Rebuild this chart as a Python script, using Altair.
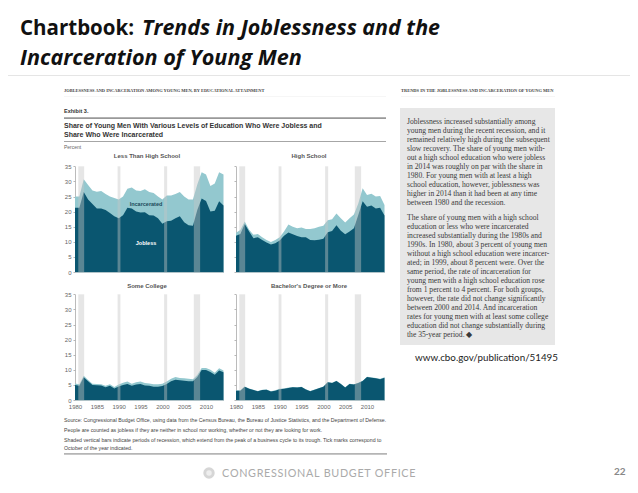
import altair as alt
import pandas as pd

years = list(range(1980, 2015))
panel_names = ["Less Than High School", "High School", "Some College", "Bachelor's Degree or More"]

lths_jobless = [21.3, 21.3, 26.5, 24, 22.5, 21, 21, 20.5, 19.5, 18.5, 17.8, 18.8, 21.3, 21, 20, 19.7, 19.8, 18.8, 18.7, 17.8, 16, 16.8, 17, 17.8, 18.5, 16.5, 15.5, 15.3, 20.5, 24.3, 23.5, 20, 20.3, 23.4, 22]
lths_total = [25, 25, 30.7, 28.8, 27, 26.6, 26.8, 25.8, 25, 24.5, 24, 25, 27.6, 28, 27, 26.8, 27.4, 26.5, 26.2, 25, 24, 25.3, 25.3, 25.8, 26.5, 25, 24, 24, 29, 33, 32.3, 28.5, 29.3, 33, 32.3]

hs_jobless = [12, 12.6, 15.9, 13.4, 11.2, 11.5, 10.6, 9.8, 9.1, 9.5, 10.4, 12, 13.1, 12.5, 11.9, 11.5, 11.5, 10.6, 10.5, 10.7, 11, 13.2, 13.6, 15.5, 13.7, 12.5, 13.4, 14.5, 18.9, 23.4, 21.6, 22, 21, 21.3, 18.7]
hs_total = [13, 13.9, 16.7, 14, 12.3, 12.6, 11.5, 10.6, 9.9, 10.6, 11.5, 13.4, 15.7, 15, 14.5, 14.7, 14.2, 14.2, 14.5, 15, 15.3, 17.1, 17.5, 19.4, 17.8, 16.4, 17.8, 19, 22.7, 27.7, 25.5, 25.9, 25, 25.2, 22.2]

sc_jobless = [5, 4.7, 7.5, 6.2, 5, 4.9, 4.8, 4.2, 4.7, 3.8, 4.5, 5, 5.3, 4.7, 5.1, 5.3, 4.8, 4.7, 4.4, 4.4, 4.6, 5.3, 6.2, 6.7, 6.5, 6.4, 6.2, 6.2, 7.6, 9.9, 9.9, 9.3, 8.4, 9.8, 9.2]
sc_total = [5.5, 5.2, 8, 6.6, 5.4, 5.3, 5.2, 4.7, 5.2, 4.3, 5.1, 5.7, 6.1, 5.4, 5.9, 6.1, 5.6, 5.5, 5.2, 5.2, 5.4, 6.1, 7, 7.6, 7.3, 7.2, 7, 6.9, 8.3, 10.6, 10.6, 10, 9, 10.5, 9.8]

ba_jobless = [3.1, 3.1, 4.4, 3.7, 3.3, 2.9, 3.3, 3.4, 2.8, 3.1, 3.6, 3.7, 4, 4.2, 4.1, 4.3, 3.5, 2.9, 3.4, 3.9, 4.4, 5.9, 5.6, 6.3, 5.3, 4.1, 5.3, 5.1, 5.6, 6.3, 7.6, 7.4, 7.2, 6.9, 7.4]
ba_total = [3.2, 3.2, 4.5, 3.8, 3.4, 3, 3.4, 3.5, 2.9, 3.2, 3.7, 3.8, 4.1, 4.3, 4.2, 4.4, 3.6, 3, 3.5, 4, 4.5, 6, 5.7, 6.4, 5.4, 4.2, 5.4, 5.2, 5.7, 6.4, 7.7, 7.5, 7.3, 7, 7.5]

recession_start = [1980.75, 1989.75, 2000.4, 2007.2]
recession_end = [1982.1, 1990.4, 2001.1, 2008.65]

year_ticks = [1980, 1985, 1990, 1995, 2000, 2005, 2010]
pct_ticks = [0, 5, 10, 15, 20, 25, 30, 35]

title_bold = "Chartbook:"
title_italic = "Trends in Joblessness and the"
title_line2 = "Incarceration of Young Men"
header_left = "JOBLESSNESS AND INCARCERATION AMONG YOUNG MEN, BY EDUCATIONAL ATTAINMENT"
header_right = "TRENDS IN THE JOBLESSNESS AND INCARCERATION OF YOUNG MEN"
exhibit = "Exhibit 3."
chart_title = ["Share of Young Men With Various Levels of Education Who Were Jobless and", "Share Who Were Incarcerated"]
notes = [
    "Source: Congressional Budget Office, using data from the Census Bureau, the Bureau of Justice Statistics, and the Department of Defense.",
    "People are counted as jobless if they are neither in school nor working, whether or not they are looking for work.",
    "Shaded vertical bars indicate periods of recession, which extend from the peak of a business cycle to its trough. Tick marks correspond to",
    "October of the year indicated.",
]
para1 = [
    "Joblessness increased substantially among",
    "young men during the recent recession, and it",
    "remained relatively high during the subsequent",
    "slow recovery. The share of young men with-",
    "out a high school education who were jobless",
    "in 2014 was roughly on par with the share in",
    "1980. For young men with at least a high",
    "school education, however, joblessness was",
    "higher in 2014 than it had been at any time",
    "between 1980 and the recession.",
]
para2 = [
    "The share of young men with a high school",
    "education or less who were incarcerated",
    "increased substantially during the 1980s and",
    "1990s. In 1980, about 3 percent of young men",
    "without a high school education were incarcer-",
    "ated; in 1999, about 8 percent were. Over the",
    "same period, the rate of incarceration for",
    "young men with a high school education rose",
    "from 1 percent to 4 percent. For both groups,",
    "however, the rate did not change significantly",
    "between 2000 and 2014. And incarceration",
    "rates for young men with at least some college",
    "education did not change substantially during",
    "the 35-year period. \u25c6",
]
url = "www.cbo.gov/publication/51495"
footer = "\u200a".join("CONGRESSIONAL BUDGET OFFICE")
page_no = "22"

W, H = 622, 477
OX, OY = 8, 8
DARK, LIGHT = "#0a5670", "#93c8cf"
one = pd.DataFrame({"a": [0]})


def label(text, x, y, size, font="Liberation Sans", weight="normal", style="normal",
          color="#333333", align="left", line_height=None, baseline="alphabetic"):
    kw = dict(text=text, font=font, fontSize=size, fontWeight=weight, fontStyle=style,
              color=color, align=align, baseline=baseline)
    if line_height:
        kw["lineHeight"] = line_height
    return alt.Chart(one).mark_text(**kw).encode(x=alt.value(x - OX), y=alt.value(y - OY))


def box(x0, x1, y0, y1, color):
    return alt.Chart(one).mark_rect(color=color).encode(
        x=alt.value(x0 - OX), x2=alt.value(x1 - OX), y=alt.value(y0 - OY), y2=alt.value(y1 - OY))


def panel(jobless, total, left, right, top, bottom, show_x, show_y):
    xs = alt.Scale(domain=[1980, 2014], range=[left - OX, right - OX], nice=False, zero=False)
    ys = alt.Scale(domain=[0, 35], range=[bottom - OY, top - OY], nice=False)
    df = pd.DataFrame({"year": years, "jobless": jobless, "total": total})
    rec = pd.DataFrame({"s": recession_start, "e": recession_end, "lo": [0] * 4, "hi": [35] * 4})
    x_axis = alt.Axis(values=year_ticks, format="d", title=None, grid=False, orient="bottom",
                      offset=bottom - OY - H, ticks=False, labels=show_x, labelFontSize=6,
                      labelColor="#666666", labelFont="Liberation Sans", labelPadding=3,
                      labelFlush=False, labelOverlap=False,
                      domainColor="#9db4ba", domainWidth=0.8)
    y_axis = alt.Axis(values=pct_ticks, title=None, grid=False, orient="left",
                      offset=-(left - OX), labels=show_y, labelFontSize=6, labelColor="#666666",
                      labelFont="Liberation Sans", labelPadding=2, tickColor="#999999", tickSize=2,
                      labelFlush=False, labelOverlap=False,
                      tickWidth=0.7, domainColor="#aaaaaa", domainWidth=0.8)
    a_total = alt.Chart(df).mark_area(color=LIGHT).encode(
        x=alt.X("year:Q", scale=xs, axis=x_axis),
        y=alt.Y("total:Q", scale=ys, axis=y_axis, stack=None))
    a_job = alt.Chart(df).mark_area(color=DARK).encode(
        x=alt.X("year:Q", scale=xs, axis=None),
        y=alt.Y("jobless:Q", scale=ys, axis=None, stack=None))
    bars = alt.Chart(rec).mark_rect(color="#c4c4c4", opacity=0.43).encode(
        x=alt.X("s:Q", scale=xs, axis=None), x2="e:Q",
        y=alt.Y("lo:Q", scale=ys, axis=None), y2="hi:Q")
    return [a_total, a_job, bars]


layers = []
# title
layers += [
    label(title_bold, 20, 35, 20.5, "Open Sans", "bold", color="#111111"),
    label(title_italic, 142, 35, 21.45, "Open Sans", "bold", "italic", color="#111111"),
    label(title_line2, 20, 65, 21.6, "Open Sans", "bold", "italic", color="#111111"),
    box(8, 630, 75, 75.8, "#dddddd"),
]
# page header and exhibit heading
layers += [
    label(header_left, 64, 92, 4.45, "Liberation Serif", "bold", color="#444444"),
    label(header_right, 401, 92, 4.47, "Liberation Serif", "bold", color="#444444"),
    box(64, 386, 96, 96.6, "#eeeeee"),
    box(401, 555, 96, 96.6, "#eeeeee"),
    label(exhibit, 64, 113, 5.5, weight="bold"),
    box(64, 386, 117.3, 119, "#999999"),
    label(chart_title, 64, 128, 7.0, weight="bold", line_height=8.8, color="#333333"),
    box(64, 386, 141, 141.8, "#888888"),
    label("Percent", 64, 149, 5, color="#666666"),
]
# panel titles
for name, cx, cy in zip(panel_names, [147, 309, 147, 309], [158, 158, 288, 288]):
    layers.append(label(name, cx, cy, 6, weight="bold", color="#555555", align="center"))

layers += panel(lths_jobless, lths_total, 75, 223.5, 166.3, 272, False, True)
layers += panel(hs_jobless, hs_total, 236, 384.5, 166.3, 272, False, False)
layers += panel(sc_jobless, sc_total, 75, 223.5, 294.3, 400, True, True)
layers += panel(ba_jobless, ba_total, 236, 384.5, 294.3, 400, True, False)

layers += [
    label("Incarcerated", 146, 206, 5.5, weight="bold", color="#1b4a5a", align="center"),
    label("Jobless", 146, 245, 5.5, weight="bold", color="#ffffff", align="center"),
]
# notes
for line, y in zip(notes, [422, 432, 442, 449.5]):
    layers.append(label(line, 64, y, 5.23, color="#444444"))
layers.append(box(64, 387, 453, 454.8, "#b5b5b5"))
# side text
layers += [
    box(400, 555, 108, 345, "#e7e7e7"),
    label(para1, 407, 123.5, 7.6, "Liberation Serif", color="#3a3a3a", line_height=9),
    label(para2, 407, 219.5, 7.6, "Liberation Serif", color="#3a3a3a", line_height=9),
    label(url, 415, 361, 9.8, "Lato", color="#222222"),
]
# footer
logo = alt.Chart(one).mark_point(filled=True, color="#d6d6d6", size=130, opacity=1).encode(
    x=alt.value(209 - OX), y=alt.value(473 - OY))
logo_c = alt.Chart(one).mark_point(filled=True, color="#eeeeee", size=30, opacity=1).encode(
    x=alt.value(209 - OX), y=alt.value(473 - OY))
layers += [
    logo, logo_c,
    label(footer, 222, 477, 10.8, "Lato", color="#aaaaaa"),
    label(page_no, 614, 475, 10, "Lato", "bold", color="#888888"),
]

chart = alt.layer(*layers).resolve_scale(x="independent", y="independent").properties(
    width=W, height=H, padding=0, background="white",
    autosize=alt.AutoSizeParams(type="none"),
).configure_view(stroke=None)

chart.save("out.html", embed_options={"renderer": "svg", "actions": False})
